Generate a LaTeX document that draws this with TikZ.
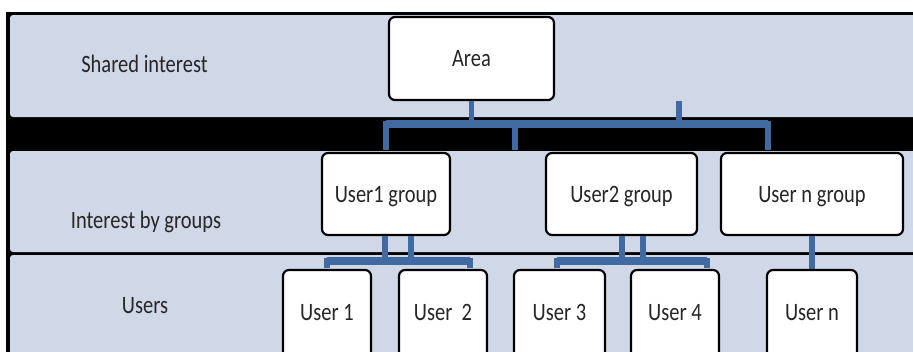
\documentclass[tikz,border=0pt]{standalone}
\usepackage{fontspec}
\setmainfont{Carlito}
\definecolor{panelc}{RGB}{208,216,232}
\definecolor{linkblue}{RGB}{64,106,160}
% narrow the text, as the labels are set condensed
\newcommand{\narrowtxt}[1]{\scalebox{0.82}[1]{#1}}
\tikzset{
  rowlabel/.style={anchor=base, font=\fontsize{25}{28}\selectfont, text=black!85},
  boxbase/.style={draw=black, line width=2.2pt, fill=white, rounded corners=6pt,
    inner sep=0pt, font=\fontsize{25}{28}\selectfont, text=black!85,
    text height=16.1pt},
  areabox/.style={boxbase, text depth=0pt, minimum width=165pt, minimum height=83pt},
  groupbox/.style={boxbase, text depth=0pt, minimum height=82pt},
  userbox/.style={boxbase, text depth=26.1pt, minimum width=88pt, minimum height=110pt},
  conn/.style={draw=linkblue, line width=5.5pt},
  barline/.style={draw=linkblue, line width=8.5pt},
}
\begin{document}
\begin{tikzpicture}[x=1pt,y=-1pt]
\useasboundingbox (0,0) rectangle (913,351);
\begin{scope}
\clip (0,0) rectangle (913,351);
% black frame behind the three bands
\fill[black] (6,12) rectangle (940,380);
% the three bands
\fill[panelc, rounded corners=3pt] (10,15) rectangle (960,117);
\fill[panelc, rounded corners=3pt] (10,151) rectangle (960,252);
\fill[panelc, rounded corners=3pt] (10,255) rectangle (960,390);

% band titles
\node[rowlabel] (shared) at (144.5,72) {\narrowtxt{Shared interest}};
\node[rowlabel] (bygroups) at (146,228) {\narrowtxt{Interest by groups}};
\node[rowlabel] (userslbl) at (145,313) {\narrowtxt{Users}};

% tree boxes
\node[areabox] (area) at (471.5,58.5) {\narrowtxt{Area}};
\node[groupbox, minimum width=128pt] (g1) at (386,194) {\narrowtxt{User1 group}};
\node[groupbox, minimum width=151pt] (g2) at (621.5,194) {\narrowtxt{User2 group}};
\node[groupbox, minimum width=182pt] (gn) at (812,194) {\narrowtxt{User n group}};
\node[userbox] (u1) at (327,325) {\narrowtxt{User 1}};
\node[userbox] (u2) at (443,325) {\narrowtxt{User\ \ 2}};
\node[userbox, minimum width=91pt] (u3) at (559.5,325) {\narrowtxt{User 3}};
\node[userbox] (u4) at (675,325) {\narrowtxt{User 4}};
\node[userbox, minimum width=90pt] (un) at (812,325) {\narrowtxt{User n}};

% connectors from the area to the groups
\coordinate (topL) at (386,124);
\coordinate (topR) at (768,124);
\coordinate (topLd) at (386,150);
\coordinate (topRd) at (768,150);
\coordinate (midU) at (515,124);
\coordinate (midD) at (515,150);
\coordinate (stubU) at (679,101);
\coordinate (stubD) at (679,124);
\draw[conn] (topLd) -- (topL) -- (topR) -- (topRd);
\draw[barline] (topL) -- (topR);
\draw[conn] (area.south) -- (area.south |- topL);
\draw[conn] (midU) -- (midD);
\draw[conn] (stubU) -- (stubD);

% connectors from group 1 to its users
\coordinate (g1a) at (385,261);
\coordinate (g1b) at (411,261);
\coordinate (g1L) at (327,261);
\coordinate (g1R) at (470,261);
\coordinate (g1Ld) at (327,268);
\coordinate (g1Rd) at (470,268);
\draw[conn] (g1a |- g1.south) -- (g1a);
\draw[conn] (g1b |- g1.south) -- (g1b);
\draw[conn] (g1Ld) -- (g1L) -- (g1R) -- (g1Rd);
\draw[barline] (g1L) -- (g1R);

% connectors from group 2 to its users
\coordinate (g2a) at (622,261);
\coordinate (g2b) at (643,261);
\coordinate (g2L) at (557,261);
\coordinate (g2R) at (707,261);
\coordinate (g2Ld) at (557,268);
\coordinate (g2Rd) at (707,268);
\draw[conn] (g2a |- g2.south) -- (g2a);
\draw[conn] (g2b |- g2.south) -- (g2b);
\draw[conn] (g2Ld) -- (g2L) -- (g2R) -- (g2Rd);
\draw[barline] (g2L) -- (g2R);

% connector from group n to user n
\draw[conn] (gn.south) -- (un.north);
\end{scope}
\end{tikzpicture}
\end{document}
